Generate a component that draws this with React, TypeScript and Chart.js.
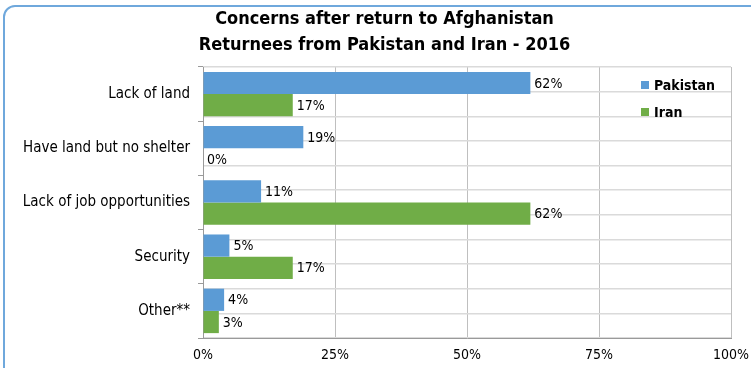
import React, { useEffect, useRef } from "react";
import { Chart, registerables } from "chart.js";

Chart.register(...registerables);

const titleLines = ["Concerns after return to Afghanistan", "Returnees from Pakistan and Iran - 2016"];
const categories = ["Lack of land", "Have land but no shelter", "Lack of job opportunities", "Security", "Other**"];
const pakistan = [62, 19, 11, 5, 4];
const iran = [17, 0, 62, 17, 3];
const seriesNames = ["Pakistan", "Iran"];
const seriesColors = ["#5b9bd5", "#70ad47"];
const xTicks = [0, 25, 50, 75, 100];

const FONT = "'DejaVu Sans Condensed', 'DejaVu Sans', sans-serif";

const titleDraw = {
  id: "titleDraw",
  afterDraw(chart: any) {
    const ctx = chart.ctx;
    ctx.save();
    ctx.font = `bold 18px ${FONT}`;
    ctx.fillStyle = "#000";
    ctx.textAlign = "center";
    ctx.textBaseline = "middle";
    const cx = chart.width / 2 + 9;
    titleLines.forEach((t, i) => ctx.fillText(t, cx, 19 + i * 26));
    ctx.restore();
  },
};

const valueLabels = {
  id: "valueLabels",
  afterDatasetsDraw(chart: any) {
    const ctx = chart.ctx;
    ctx.save();
    ctx.font = `14px ${FONT}`;
    ctx.fillStyle = "#000";
    ctx.textAlign = "left";
    ctx.textBaseline = "middle";
    chart.data.datasets.forEach((ds: any, i: number) => {
      const meta = chart.getDatasetMeta(i);
      meta.data.forEach((el: any, j: number) => {
        ctx.fillText(`${ds.data[j]}%`, el.x + 4, el.y + 1);
      });
    });
    ctx.restore();
  },
};

const insideLegend = {
  id: "insideLegend",
  afterDraw(chart: any) {
    const ctx = chart.ctx;
    const area = chart.chartArea;
    ctx.save();
    ctx.font = `bold 14px ${FONT}`;
    ctx.textAlign = "left";
    ctx.textBaseline = "middle";
    chart.data.datasets.forEach((ds: any, i: number) => {
      const y = area.top + 18 + i * 27;
      const x = area.right - 90;
      ctx.fillStyle = ds.backgroundColor;
      ctx.fillRect(x, y - 4, 8, 8);
      ctx.fillStyle = "#000";
      ctx.fillText(ds.label, x + 13, y + 1);
    });
    ctx.restore();
  },
};

export default function App() {
  const ref = useRef<HTMLCanvasElement>(null);
  useEffect(() => {
    if (!ref.current) return;
    const chart = new Chart(ref.current, {
      type: "bar",
      data: {
        labels: categories,
        datasets: [
          { label: seriesNames[0], data: pakistan, backgroundColor: seriesColors[0], categoryPercentage: 0.82, barPercentage: 1.0, yAxisID: "y" },
          { label: seriesNames[1], data: iran, backgroundColor: seriesColors[1], categoryPercentage: 0.82, barPercentage: 1.0, yAxisID: "y" },
        ],
      },
      plugins: [valueLabels, insideLegend, titleDraw],
      options: {
        indexAxis: "y",
        responsive: false,
        animation: false,
        layout: { padding: { left: 0, right: 20, top: 67, bottom: 0 } },
        plugins: {
          legend: { display: false },
          tooltip: { enabled: false },
          title: { display: false },
        },
        scales: {
          x: {
            type: "linear",
            min: 0,
            max: 100,
            afterBuildTicks: (s: any) => {
              s.ticks = xTicks.map((v) => ({ value: v }));
            },
            afterFit: (s: any) => {
              s.height = 30;
              s.paddingLeft = 0;
              s.paddingRight = 0;
            },
            ticks: {
              color: "#000",
              font: { family: FONT, size: 14 },
              padding: 9,
              callback: (v: any) => `${v}%`,
            },
            grid: { color: "#bfbfbf", drawTicks: false, lineWidth: 1 },
            border: { color: "#9a9a9a", width: 1 },
          },
          y: {
            type: "category",
            position: "left",
            afterFit: (s: any) => {
              s.width = 203;
              s.paddingTop = 0;
              s.paddingBottom = 0;
            },
            ticks: { color: "#000", font: { family: FONT, size: 15 }, padding: 8 },
            grid: { drawOnChartArea: false, drawTicks: true, tickLength: 5, color: "#9a9a9a", offset: true },
            border: { color: "#9a9a9a", width: 1 },
          },
          yGrid: {
            type: "linear",
            position: "left",
            min: 0,
            max: 10,
            reverse: true,
            afterFit: (s: any) => {
              s.width = 0;
            },
            ticks: { display: false, stepSize: 1 },
            grid: { color: "#dadada", drawTicks: false, lineWidth: 1.5 },
            border: { display: false },
          },
        },
      } as any,
    });
    return () => chart.destroy();
  }, []);

  return (
    <div style={{ position: "fixed", left: 0, top: 0, width: 751, height: 368, overflow: "hidden", background: "#fff" }}>
      <div
        style={{
          position: "absolute",
          left: 3,
          top: 5,
          width: 760,
          height: 400,
          border: "2px solid #6fa8dc",
          borderRadius: 12,
          boxSizing: "border-box",
        }}
      />
      <canvas ref={ref} width={751} height={368} style={{ position: "absolute", left: 0, top: 0 }} />
    </div>
  );
}
